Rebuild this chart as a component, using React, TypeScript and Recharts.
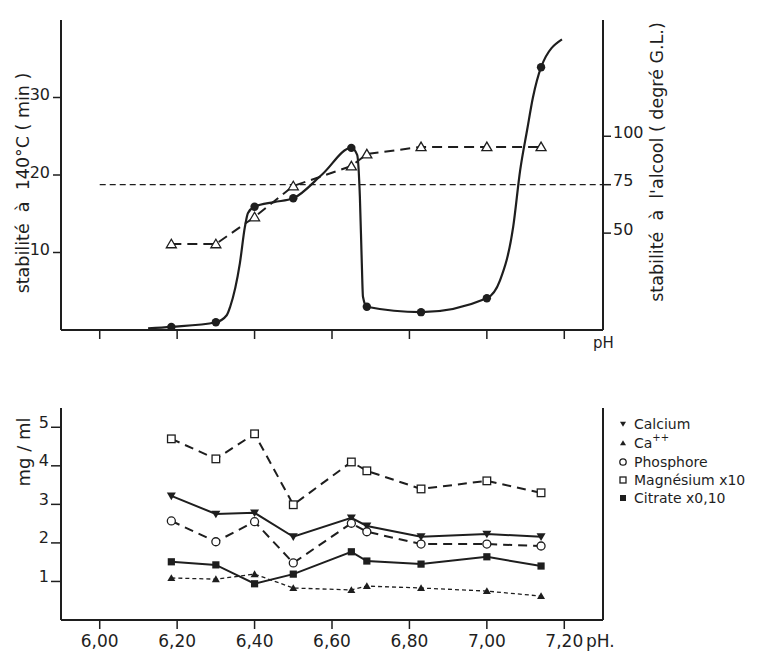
import React from 'react';
import { ComposedChart, Line, XAxis, YAxis, ReferenceLine } from 'recharts';

// ---------- data ----------
const phValues = [6.185, 6.3, 6.4, 6.5, 6.65, 6.69, 6.83, 7.0, 7.14];
const xTicks = [6.0, 6.2, 6.4, 6.6, 6.8, 7.0, 7.2];

// top chart
const heatStability = [0.4, 1.0, 15.9, 17.0, 23.5, 3.0, 2.3, 4.1, 33.9]; // min, left axis
const alcoholStability = [44.4, 44.4, 58.3, 74.3, 84.6, 90.8, 94.5, 94.5, 94.5]; // degré G.L., right axis
const heatCurvePh = [6.125, 6.185, 6.3, 6.328, 6.337, 6.362, 6.375, 6.383, 6.4, 6.45, 6.5, 6.575, 6.65, 6.665, 6.672, 6.677, 6.68, 6.69, 6.83, 7.0, 7.034, 7.068, 7.086, 7.104, 7.119, 7.14, 7.194];
const heatCurveMin = [0.2, 0.4, 1.0, 1.9, 3.0, 8.6, 13.3, 15.1, 15.9, 16.5, 17.0, 20.1, 23.5, 22.6, 17.2, 8.6, 4.3, 3.0, 2.3, 4.1, 6.4, 13.3, 20.6, 25.8, 30.0, 33.9, 37.5];
const alcoholThreshold = 75;
const leftTicks = [10, 20, 30];
const rightTicks = [50, 75, 100];

// bottom chart (mg / ml)
const calcium = [3.22, 2.75, 2.78, 2.16, 2.65, 2.44, 2.16, 2.23, 2.16];
const caIon = [1.09, 1.06, 1.19, 0.83, 0.78, 0.88, 0.83, 0.75, 0.62];
const phosphore = [2.57, 2.03, 2.55, 1.48, 2.51, 2.29, 1.97, 1.97, 1.92];
const magnesium = [4.7, 4.18, 4.83, 2.99, 4.1, 3.87, 3.4, 3.61, 3.3];
const citrate = [1.51, 1.43, 0.94, 1.19, 1.77, 1.53, 1.45, 1.64, 1.4];
const mgTicks = [1, 2, 3, 4, 5];

// ---------- styling ----------
const INK = '#1e1e1e';
const FONT = '"DejaVu Sans", sans-serif';

type Kind = 'triDown' | 'triUp' | 'circle' | 'square' | 'squareFilled' | 'triOpen' | 'disc';

const bottomSeries: { key: string; name: string; values: number[]; marker: Kind; dash?: string; width: number }[] = [
  { key: 'calcium', name: 'Calcium', values: calcium, marker: 'triDown', width: 2 },
  { key: 'caIon', name: 'Ca', values: caIon, marker: 'triUp', dash: '4 3', width: 1.3 },
  { key: 'phosphore', name: 'Phosphore', values: phosphore, marker: 'circle', dash: '9 6', width: 2 },
  { key: 'magnesium', name: 'Magnésium x10', values: magnesium, marker: 'square', dash: '9 6', width: 2 },
  { key: 'citrate', name: 'Citrate x0,10', values: citrate, marker: 'squareFilled', width: 2 },
];

const bottomData = phValues.map((x, i) => {
  const row: any = { x };
  bottomSeries.forEach((s) => (row[s.key] = s.values[i]));
  return row;
});
const heatData = phValues.map((x, i) => ({ x, y: heatStability[i] }));
const alcoholData = phValues.map((x, i) => ({ x, y: alcoholStability[i] }));
const curveData = heatCurvePh.map((x, i) => ({ x, y: heatCurveMin[i] }));

function Marker({ kind, cx, cy, s }: { kind: Kind; cx: number; cy: number; s: number }) {
  if (cx == null || cy == null || isNaN(cx) || isNaN(cy)) return <g />;
  switch (kind) {
    case 'triDown':
      return <polygon points={`${cx - s},${cy - s * 0.75} ${cx + s},${cy - s * 0.75} ${cx},${cy + s * 0.95}`} fill={INK} />;
    case 'triUp':
      return <polygon points={`${cx - s},${cy + s * 0.75} ${cx + s},${cy + s * 0.75} ${cx},${cy - s * 0.95}`} fill={INK} />;
    case 'triOpen':
      return <polygon points={`${cx - s},${cy + s * 0.75} ${cx + s},${cy + s * 0.75} ${cx},${cy - s * 0.95}`} fill="#fff" stroke={INK} strokeWidth={1.3} />;
    case 'circle':
      return <circle cx={cx} cy={cy} r={s} fill="#fff" stroke={INK} strokeWidth={1.3} />;
    case 'disc':
      return <circle cx={cx} cy={cy} r={s} fill={INK} />;
    case 'square':
      return <rect x={cx - s} y={cy - s} width={2 * s} height={2 * s} fill="#fff" stroke={INK} strokeWidth={1.3} />;
    case 'squareFilled':
      return <rect x={cx - s} y={cy - s} width={2 * s} height={2 * s} fill={INK} />;
  }
  return <g />;
}

const markerSize: Record<Kind, number> = {
  triDown: 4.5, triUp: 4, circle: 4, square: 3.8, squareFilled: 3.6, triOpen: 5, disc: 4.2,
};

const dotRenderer = (kind: Kind) => (p: any) => (
  <Marker key={`${kind}-${p.index}`} kind={kind} cx={p.cx} cy={p.cy} s={markerSize[kind]} />
);

// ---------- ticks & labels ----------
const EmptyTick = () => <g />;

const TopLeftTick = (p: any) => (
  <text x={p.x - 1} y={p.y - 3} textAnchor="end" dominantBaseline="central" fontSize={16} fontFamily={FONT} fill={INK}>
    {p.payload.value}
  </text>
);
const TopRightTick = (p: any) => (
  <text x={p.x} y={p.y - 4} textAnchor="start" dominantBaseline="central" fontSize={16} fontFamily={FONT} fill={INK}>
    {p.payload.value}
  </text>
);
const BottomLeftTick = (p: any) => (
  <text x={p.x} y={p.y - 5} textAnchor="end" dominantBaseline="central" fontSize={16} fontFamily={FONT} fill={INK}>
    {p.payload.value}
  </text>
);
const fmtPh = (v: number) => v.toFixed(2).replace('.', ',');
const BottomXTick = (p: any) => (
  <text x={p.x} y={p.y + 10} textAnchor="middle" dominantBaseline="central" fontSize={17} fontFamily={FONT} fill={INK}>
    {fmtPh(p.payload.value)}
  </text>
);

const RotLabel = ({ cx, cy, text, size }: { cx: number; cy: number; text: string; size: number }) => (
  <text x={cx} y={cy} transform={`rotate(-90, ${cx}, ${cy})`} textAnchor="middle" dominantBaseline="central" fontSize={size} fontFamily={FONT} fill={INK} style={{ whiteSpace: 'pre' }}>
    {text}
  </text>
);

const TopLeftTitle = () => <RotLabel cx={23} cy={183} text="stabilité  à  140°C ( min )" size={17.5} />;
const TopRightTitle = () => <RotLabel cx={657} cy={162} text="stabilité  à  l'alcool ( degré G.L.)" size={17.5} />;
const TopPh = () => (
  <text x={593} y={343} dominantBaseline="central" fontSize={15} fontFamily={FONT} fill={INK}>pH</text>
);
const BottomTitle = () => <RotLabel cx={23} cy={72} text="mg / ml" size={18} />;
const BottomPh = () => (
  <text x={586} y={261} dominantBaseline="central" fontSize={17} fontFamily={FONT} fill={INK}>pH.</text>
);

const axisStroke = { stroke: INK, strokeWidth: 2 };
const tickStroke = { stroke: INK, strokeWidth: 1.5 };

function TopChart() {
  return (
    <ComposedChart width={773} height={360} margin={{ top: 20, right: 120, bottom: 0, left: 11 }}>
      <XAxis
        type="number" dataKey="x" domain={[5.9, 7.3]} ticks={xTicks} allowDataOverflow
        tick={<EmptyTick />} tickSize={9} height={30} axisLine={axisStroke} tickLine={tickStroke}
        label={<TopPh />}
      />
      <YAxis
        yAxisId="left" type="number" domain={[0, 40]} ticks={leftTicks} interval={0} width={50}
        tickSize={8} tickMargin={2} tick={<TopLeftTick />} axisLine={axisStroke} tickLine={tickStroke}
        label={<TopLeftTitle />} allowDataOverflow
      />
      <YAxis
        yAxisId="right" orientation="right" type="number" domain={[0, 160]} ticks={rightTicks} interval={0} width={50}
        tickSize={8} tickMargin={2} tick={<TopRightTick />} axisLine={axisStroke} tickLine={tickStroke}
        label={<TopRightTitle />} allowDataOverflow
      />
      <ReferenceLine
        yAxisId="right"
        segment={[{ x: 6.0, y: alcoholThreshold }, { x: 7.3, y: alcoholThreshold }]}
        stroke={INK} strokeWidth={1.2} strokeDasharray="6 4"
      />
      <Line yAxisId="left" data={curveData} dataKey="y" type="monotone" stroke={INK} strokeWidth={2.2} dot={false} isAnimationActive={false} />
      <Line yAxisId="right" data={alcoholData} dataKey="y" type="linear" stroke={INK} strokeWidth={2} strokeDasharray="10 6" dot={dotRenderer('triOpen')} isAnimationActive={false} />
      <Line yAxisId="left" data={heatData} dataKey="y" type="linear" stroke="none" strokeWidth={0} dot={dotRenderer('disc')} isAnimationActive={false} />
    </ComposedChart>
  );
}

function BottomChart() {
  return (
    <ComposedChart width={773} height={271} data={bottomData} margin={{ top: 28, right: 170, bottom: 0, left: 11 }}>
      <XAxis
        type="number" dataKey="x" domain={[5.9, 7.3]} ticks={xTicks} allowDataOverflow
        tick={<BottomXTick />} tickSize={9} tickMargin={2} height={31} axisLine={axisStroke} tickLine={tickStroke}
        label={<BottomPh />}
      />
      <YAxis
        type="number" domain={[0, 5.5]} ticks={mgTicks} interval={0} width={50}
        tickSize={10} tickMargin={2} tick={<BottomLeftTick />} axisLine={axisStroke} tickLine={tickStroke}
        label={<BottomTitle />} allowDataOverflow
      />
      <ReferenceLine x={7.3} stroke={INK} strokeWidth={2} ifOverflow="extendDomain" />
      {bottomSeries.map((s) => (
        <Line
          key={s.key} dataKey={s.key} type="linear" stroke={INK} strokeWidth={s.width}
          strokeDasharray={s.dash} dot={dotRenderer(s.marker)} isAnimationActive={false}
        />
      ))}
    </ComposedChart>
  );
}

function LegendBox() {
  const rowsY = [14, 33, 52, 70, 88];
  return (
    <svg width={161} height={100} style={{ position: 'absolute', left: 612, top: 410 }}>
      {bottomSeries.map((s, i) => (
        <g key={s.key}>
          <Marker kind={s.marker} cx={11} cy={rowsY[i]} s={s.marker === 'circle' ? 3.2 : 3} />
          <text x={22} y={rowsY[i]} dominantBaseline="central" fontSize={14} fontFamily={FONT} fill={INK}>
            {s.name}
            {s.key === 'caIon' ? <tspan fontSize={10} dy={-6}>++</tspan> : null}
          </text>
        </g>
      ))}
    </svg>
  );
}

export default function App() {
  return (
    <div style={{ position: 'absolute', left: 0, top: 0, width: 773, height: 651, background: '#fff', overflow: 'hidden' }}>
      <div style={{ position: 'absolute', left: 0, top: 0 }}>
        <TopChart />
      </div>
      <div style={{ position: 'absolute', left: 0, top: 380 }}>
        <BottomChart />
      </div>
      <LegendBox />
    </div>
  );
}
